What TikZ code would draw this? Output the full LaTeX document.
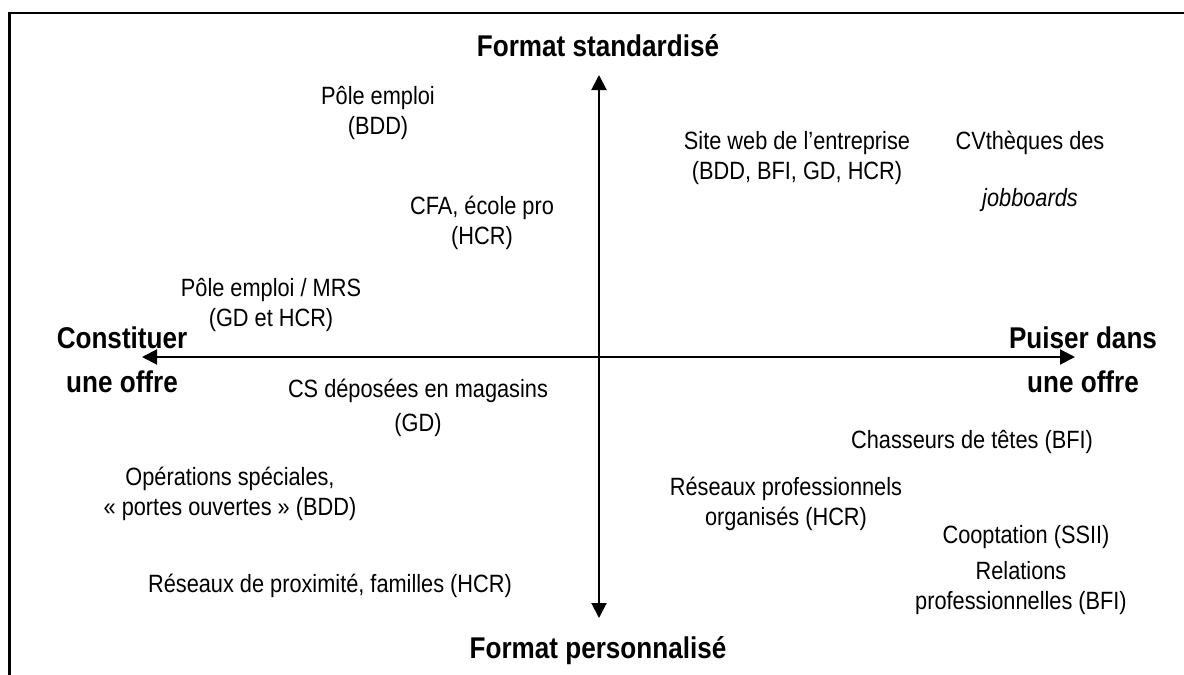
\documentclass[tikz,border=0pt]{standalone}
\usepackage{fontspec}
\setmainfont{Liberation Sans}[FakeStretch=0.87]
\usetikzlibrary{arrows.meta,positioning}

\begin{document}
\begin{tikzpicture}[x=1pt,y=-1pt,
  axe/.style={line width=2pt,{Triangle[length=15pt,width=15pt]}-{Triangle[length=15pt,width=15pt]}},
  pole/.style={align=center,font=\fontsize{30}{44}\selectfont\bfseries,inner sep=0pt},
  canal/.style={align=center,font=\fontsize{25}{30}\selectfont,inner sep=0pt}]

\useasboundingbox (0,0) rectangle (1184,675);

% cadre (haut et gauche)
\coordinate (cadre_hg) at (9.5,13);
\coordinate (cadre_bas) at (9.5,675);
\coordinate (cadre_hd) at (1184,13);
\draw[line width=2.5pt] (cadre_bas) -- (cadre_hg) -- (cadre_hd);

% axes
\coordinate (haut) at (599,75);
\coordinate (bas) at (599,618);
\coordinate (gauche) at (142,357);
\coordinate (droite) at (1075,357);

\draw[axe] (bas) -- (haut);
\draw[axe] (gauche) -- (droite);

% poles
\node[pole] (standard) at (598,46) {Format standardisé};
\node[pole] (perso) at (598,651) {Format personnalisé};
\node[pole] (constituer) at (122,360) {Constituer\\une offre};
\node[pole] (puiser) at (1083,360) {Puiser dans\\une offre};

% canaux
\node[canal] (pole_emploi) at (378,113) {Pôle emploi\\(BDD)};
\node[canal] (cfa) at (482,223) {CFA, école pro\\(HCR)};
\node[canal] (pole_mrs) at (271,305) {Pôle emploi / MRS\\(GD et HCR)};
\node[canal] (site_web) at (797,158) {Site web de l’entreprise\\(BDD, BFI, GD, HCR)};
\node[canal] (cvtheques) at (1030,143) {CVthèques des};
\node[canal, below=57pt of cvtheques.center, anchor=center] (jobboards) {\itshape jobboards};
\node[canal] (cs_magasins) at (418,391) {CS déposées en magasins};
\node[canal] (cs_gd) at (418,425) {(GD)};
\node[canal] (chasseurs) at (972,442) {Chasseurs de têtes (BFI)};
\node[canal] (operations) at (230,494) {Opérations spéciales,\\« portes ouvertes » (BDD)};
\node[canal] (reseaux_pro) at (786,504) {Réseaux professionnels\\organisés (HCR)};
\node[canal] (cooptation) at (1026,537) {Cooptation (SSII)};
\node[canal] (relations) at (1021,588) {Relations\\professionnelles (BFI)};
\node[canal] (proximite) at (330,586) {Réseaux de proximité, familles (HCR)};

\end{tikzpicture}
\end{document}
